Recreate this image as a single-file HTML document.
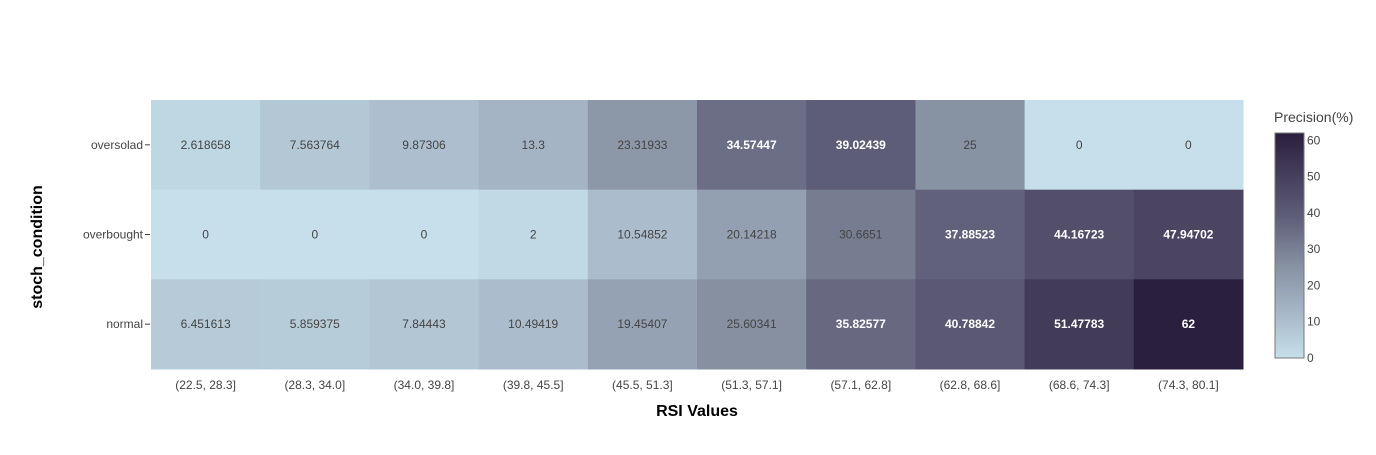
<!DOCTYPE html>
<html><head><meta charset="utf-8"><style>
body{margin:0;background:#fff;font-family:"Liberation Sans",sans-serif;}
svg text{font-family:"Liberation Sans",sans-serif;}
</style></head><body>
<svg id="chart" width="1376" height="450">
<defs><linearGradient id="cg" x1="0" y1="1" x2="0" y2="0">
<stop offset="0" stop-color="#c6dfea"/><stop offset="0.21" stop-color="#a5b5c5"/><stop offset="0.4" stop-color="#8893a4"/><stop offset="0.63" stop-color="#5e5d77"/><stop offset="0.83" stop-color="#433c58"/><stop offset="1" stop-color="#2a1f3d"/></linearGradient></defs>
<g id="cells"></g>
<text x="697" y="416" text-anchor="middle" font-size="16" font-weight="bold" fill="#000">RSI Values</text>
<text transform="translate(42,247) rotate(-90)" text-anchor="middle" font-size="16" font-weight="bold" fill="#000">stoch_condition</text>
<text x="1274" y="122" font-size="14" fill="#444">Precision(%)</text>
<rect x="1275" y="133" width="29" height="225" fill="url(#cg)" stroke="#777" stroke-width="1"/>
<g id="cbticks"></g>
</svg>
<script>
const xCats=["(22.5, 28.3]","(28.3, 34.0]","(34.0, 39.8]","(39.8, 45.5]","(45.5, 51.3]","(51.3, 57.1]","(57.1, 62.8]","(62.8, 68.6]","(68.6, 74.3]","(74.3, 80.1]"];
const yCats=["oversolad","overbought","normal"];
const oversoldVals=[2.618658,7.563764,9.87306,13.3,23.31933,34.57447,39.02439,25,0,0];
const overboughtVals=[0,0,0,2,10.54852,20.14218,30.6651,37.88523,44.16723,47.94702];
const normalVals=[6.451613,5.859375,7.84443,10.49419,19.45407,25.60341,35.82577,40.78842,51.47783,62];
const cbTicks=[0,10,20,30,40,50,60];
const zMax=62;
const rows=[oversoldVals,overboughtVals,normalVals];
const X0=151,X1=1243,Y0=100,Y1=369;
const cw=(X1-X0)/xCats.length, ch=(Y1-Y0)/yCats.length;
const xPos=i=>X0+i*cw, yPos=j=>Y0+j*ch;
const stops=[[0,[198,223,234]],[0.21,[165,181,197]],[0.4,[136,147,164]],[0.63,[94,93,119]],[0.83,[67,60,88]],[1,[42,31,61]]];
function color(v){const t=Math.max(0,Math.min(1,v/zMax));for(let k=1;k<stops.length;k++){if(t<=stops[k][0]){const a=stops[k-1],b=stops[k],f=(t-a[0])/(b[0]-a[0]);return 'rgb('+a[1].map((c,i)=>Math.round(c+(b[1][i]-c)*f)).join(',')+')';}}return 'rgb(42,31,61)';}
const NS="http://www.w3.org/2000/svg";
const svg=document.getElementById('chart'),g=document.getElementById('cells');
function mk(tag,attrs,parent){const e=document.createElementNS(NS,tag);for(const k in attrs)e.setAttribute(k,attrs[k]);parent.appendChild(e);return e;}
rows.forEach((row,j)=>{row.forEach((v,i)=>{
const r=mk('rect',{x:xPos(i),y:yPos(j),width:cw+0.5,height:ch+0.5,fill:color(v)},g);


const dark=v>31;
const t=mk('text',{x:xPos(i)+cw/2,y:yPos(j)+ch/2+4,'text-anchor':'middle','font-size':12,fill:dark?'#fff':'#444','font-weight':dark?'bold':'normal'},g);
t.textContent=String(v);


});});
xCats.forEach((c,i)=>{
const t=mk('text',{x:xPos(i)+cw/2,y:389,'text-anchor':'middle','font-size':12,fill:'#444'},svg);
t.textContent=c;


});
yCats.forEach((c,j)=>{
const y=yPos(j)+ch/2;
mk('line',{x1:X0-6,x2:X0-1,y1:y,y2:y,stroke:'#444'},svg);
const t=mk('text',{x:X0-8,y:y+4,'text-anchor':'end','font-size':12,fill:'#444'},svg);
t.textContent=c;


});
const cb=document.getElementById('cbticks');
cbTicks.forEach(v=>{
const y=358-v/zMax*225;
const t=mk('text',{x:1307,y:y+4,'font-size':12,fill:'#444'},cb);
t.textContent=v;


});
</script>
</body></html>
